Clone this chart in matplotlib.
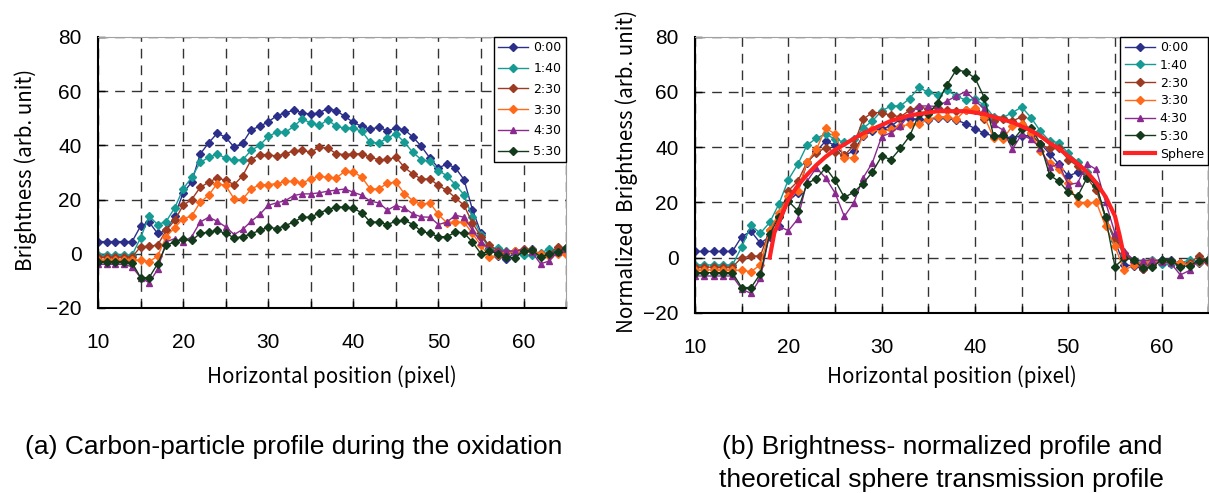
import matplotlib.pyplot as plt
from matplotlib.ticker import MultipleLocator

# pixel position 10..65
xpos = list(range(10, 66))

labels = ['0:00', '1:40', '2:30', '3:30', '4:30', '5:30']
colors = ['#2b2f8a', '#159a94', '#9c3a22', '#ff6a1a', '#8a2a8e', '#143a1c']
markers = ['D', 'D', 'D', 'D', '^', 'D']

# (a) raw brightness
a_000 = [4.5, 4.5, 4.5, 4.5, 4.5, 10.2, 11.7, 7.5, 8.6, 13.9, 22.5, 26.4, 36.8, 40.9, 44.5, 43, 39.3, 40.9, 45.8, 47,
         48.7, 50.9, 52.1, 52.9, 52.1, 51.4, 52.1, 53.6, 52.8, 50.7, 48.5, 47, 46, 46.7, 45.4, 46.3, 45.8, 43.1, 39.6, 35.3,
         31.7, 33.1, 31.7, 27.4, 16.3, 7.7, 2.2, -0.9, -2, 0.4, 1, 1.6, -0.9, 0.4, 1, 2.2]
a_140 = [-0.5, -0.5, -0.5, -0.5, -0.5, 5.9, 13.9, 10.8, 11.9, 16.9, 23.9, 28.2, 33.7, 35.6, 36.8, 35.3, 34.5, 34.7, 38.2, 40,
         43.3, 44.9, 44.8, 47, 49.8, 48.2, 47.4, 49.4, 47, 46.4, 46.3, 45.2, 41.1, 40.9, 42.7, 44.3, 41.1, 37.4, 34.7, 34.1,
         30.7, 28.8, 25.5, 21.8, 13.5, 7.1, 1.6, 2.2, 1, 0.6, -0.5, -0.6, 0.4, 1.6, 1.3, 1.6]
a_230 = [-1.2, -1.2, -1.2, -1.2, -1.2, 2.6, 2.8, 3.2, 8.6, 12.3, 17.9, 20, 24.5, 26.4, 28, 27.1, 25.5, 28.8, 34.7, 36.6,
         36.6, 36, 36.9, 38, 38.2, 37.5, 39.3, 39, 36.9, 36.6, 36.9, 36.9, 35.6, 34.7, 34.8, 35.6, 31.9, 29.4, 27.6, 27.6,
         25.2, 23.4, 20.6, 17.9, 11.4, 6.3, 3.1, 1.2, 0.6, 1.2, 1.6, 1.2, 0.1, -0.2, 2.6, 0.6]
a_330 = [-2.3, -2.3, -2.3, -2.3, -2.3, -2.3, -2.9, -0.9, 6.3, 9.6, 13, 13.9, 19, 21.6, 25.9, 25.2, 20.2, 20.2, 23.9, 25.5,
         25.5, 25.9, 26.7, 26.7, 26.1, 27.6, 28.6, 28.2, 28, 30.4, 30.3, 28.2, 23.9, 23.9, 26.1, 26.4, 22.2, 19.6, 18.2, 18.8,
         14.5, 11.4, 11.7, 11.7, 7.5, 3.1, -1.1, -0.6, 0.4, 1, 1, 1.3, -0.2, -0.9, 0, -0.2]
a_430 = [-3.9, -3.9, -3.9, -3.9, -4.8, -8.8, -10.7, -5.8, 4.4, 5.6, 4.4, 6.3, 11.7, 13.5, 12, 9.9, 7.1, 9, 12, 14.5,
         17.9, 18.8, 19.6, 21.5, 22.1, 22.1, 22.5, 23.1, 23.5, 23.9, 22.7, 21.6, 19.4, 18.8, 16.1, 17.8, 16.9, 14.7, 13.6, 13.5,
         10.8, 11.7, 14.2, 13.5, 8.7, 4.4, 1.6, 1, 1, 1, 1.6, 0.6, -3.7, -2.7, 0.6, 1.6]
a_530 = [-2.9, -2.9, -2.9, -2.9, -3.3, -8.8, -8.8, -3.7, 3.1, 4.4, 5.3, 4.9, 7.5, 8, 8.6, 7.5, 5.9, 6.3, 7.4, 8.6,
         9.8, 9.3, 10.4, 11.7, 13.5, 13.5, 15.1, 16.3, 17.3, 17.2, 16.8, 15.1, 11.7, 11.7, 10.8, 12, 12.4, 10.8, 8.3, 7.5,
         6.3, 6.3, 8, 7.7, 4.3, 0, 1, 0.1, -1.2, -1.5, 1, 1.3, -1.1, -0.2, 0.6, 2.2]

# (b) normalized brightness
b_000 = [2.2, 2.2, 2.2, 2.2, 2.2, 7.6, 9.5, 5.2, 7.6, 11.3, 20.4, 23.4, 34.3, 38.5, 42.2, 40.6, 37.1, 38.5, 44, 45.8,
         46.7, 47.6, 50.1, 50.3, 50.1, 49.7, 50.7, 50.5, 49.8, 48.5, 46.7, 45, 44, 43.8, 43.4, 44, 44.2, 41.3, 37.6, 33.7,
         29.5, 30.9, 29.5, 25.8, 14.3, 5.8, -2.7, -3, -4.2, -1.2, -0.8, -0.8, -2.7, -1.7, -2.1, -0.8]
b_140 = [-2.7, -2.7, -2.7, -2.7, -2.7, 3.8, 11.6, 8.8, 12.7, 19.5, 28.2, 33.7, 40.7, 43.2, 44.8, 42.8, 41.8, 42.8, 46.8, 49.5,
         53.1, 54.9, 54.9, 57.6, 61.6, 59.8, 58.8, 60.6, 58.5, 57, 57.3, 55.2, 51, 50.7, 52.5, 54.5, 50.7, 45.8, 42.2, 41.6,
         37.7, 34.7, 30.9, 25.8, 14.5, 6.2, 1.3, -0.8, -1.5, -0.8, -2.4, -2.4, -2.1, -0.8, -1.7, -0.8]
b_230 = [-3.5, -3.5, -3.5, -3.5, -3.5, 0, 0.4, 0.6, 10, 14.9, 24.2, 27.6, 34.5, 37.9, 39.8, 38.2, 37, 40.6, 50.1, 52.5,
         52.5, 51.5, 51, 53.3, 54.7, 53.7, 54.3, 53.3, 53.1, 53.3, 53.3, 50.3, 49.5, 50.1, 49.5, 50.9, 45, 41, 39.5, 39.5,
         35.5, 33.1, 28.8, 24.4, 14.3, 7, 1.8, -1.5, -4.1, -2.7, -1.1, -1.1, -2.1, -2.1, 0.7, -1.5]
b_330 = [-4.5, -4.5, -4.5, -4.5, -4.5, -4.7, -5.1, -2.7, 10, 16.1, 22.2, 24, 34.5, 39.2, 46.8, 44.8, 36.1, 36.1, 44.2, 46.4,
         45.6, 46.4, 47.6, 48.2, 48.2, 50.1, 51, 51, 50.1, 53.5, 54, 51, 43.4, 43, 47.6, 48.2, 45.2, 38.5, 34.3, 31.9,
         27, 19.8, 19.8, 20, 11.3, 4, -4.7, -2.7, -2.1, -1.1, -1.2, -1.5, -2.1, -2.7, -1.5, -0.8]
b_430 = [-6.7, -6.7, -6.7, -6.7, -6.7, -11.5, -13, -7.5, 8.8, 11.3, 9.7, 13.9, 27.6, 32.5, 28.8, 23.4, 14.9, 19.8, 28.8, 34.3,
         43.8, 45.2, 47.6, 51.9, 54.9, 54.9, 54.7, 56.7, 58.5, 60.1, 57, 53.7, 48.2, 46.2, 39.2, 44.6, 42.8, 39.8, 32.8, 33.7,
         26.4, 27, 33.9, 31.9, 20, 8.8, 2.2, -0.8, -1.1, -0.8, -1.5, -2.1, -6.3, -4.7, -0.8, -0.8]
b_530 = [-5.5, -5.5, -5.5, -5.5, -5.5, -10.9, -10.9, -5.9, 8.6, 14.5, 20.4, 17, 26.8, 28.6, 32.5, 27.9, 21.8, 23.6, 26.8, 30.9,
         36.7, 35.5, 39.5, 44, 51.9, 51.9, 56.1, 62.6, 68, 67.3, 65, 57.9, 44, 44.4, 42.2, 46.4, 47, 41.3, 29.8, 27.6,
         23.6, 22.2, 28.8, 26.4, 14.5, -3.3, -0.2, -0.8, -3.9, -3.6, -0.8, -1.1, -3.3, -3, -1.1, -0.8]

# theoretical sphere transmission profile
sphere_x = [18, 18.5, 19, 20, 21, 22, 23, 24, 25, 26, 27, 28, 29, 30, 31, 32, 33, 34, 35, 36, 37, 38, 39,
            40, 41, 42, 43, 44, 45, 46, 47, 48, 49, 50, 51, 52, 53, 54, 55, 55.5, 56]
sphere_y = [0, 9, 13, 21, 26, 30, 33.5, 36.5, 39, 41, 43, 45, 46.5, 48, 49.5, 50.5, 51.5, 52, 52.5, 53, 53, 53, 53,
            52.5, 52, 51, 50, 49, 47.5, 46, 44, 41.5, 39.5, 36.7, 34, 31, 27, 22, 15, 8, 0]

tick_font = 'Liberation Sans'
label_font = ['Noto Sans CJK JP', 'DejaVu Sans']


def style_axes(ax):
    ax.set_xlim(10, 65)
    ax.set_ylim(-20, 80)
    ax.xaxis.set_major_locator(MultipleLocator(10))
    ax.xaxis.set_minor_locator(MultipleLocator(5))
    ax.yaxis.set_major_locator(MultipleLocator(20))
    ax.grid(True, which='both', axis='x', color='#333333', linestyle=(0, (7, 5)), linewidth=1)
    ax.grid(True, which='major', axis='y', color='#333333', linestyle=(0, (7, 5)), linewidth=1)
    ax.tick_params(which='both', direction='in', length=5, width=1, color='black')
    ax.tick_params(axis='x', which='major', pad=18, labelsize=15)
    ax.tick_params(axis='y', pad=12, labelsize=15)
    for lab in ax.get_xticklabels() + ax.get_yticklabels():
        lab.set_fontfamily(tick_font)
    ax.spines['left'].set_linewidth(1.5)
    ax.spines['bottom'].set_linewidth(1.5)
    ax.spines['top'].set_color('#a0a0a0')
    ax.spines['right'].set_color('#a0a0a0')
    ax.set_axisbelow(True)


fig = plt.figure(figsize=(12.09, 4.93), dpi=100)
ax1 = fig.add_axes([0.0811, 0.3753, 0.3871, 0.5497])
ax2 = fig.add_axes([0.5749, 0.3657, 0.4245, 0.5599])

series_a = [a_000, a_140, a_230, a_330, a_430, a_530]
series_b = [b_000, b_140, b_230, b_330, b_430, b_530]

for vals, lab, c, m in zip(series_a, labels, colors, markers):
    ms = 5 if m == '^' else 4
    ax1.plot(xpos, vals, color=c, marker=m, markersize=ms, linewidth=1, label=lab)

for vals, lab, c, m in zip(series_b, labels, colors, markers):
    ms = 5 if m == '^' else 4
    ax2.plot(xpos, vals, color=c, marker=m, markersize=ms, linewidth=1, label=lab)
ax2.plot(sphere_x, sphere_y, color='#ff2222', linewidth=3, label='Sphere', zorder=5)

for ax, spacing in ((ax1, 0.62), (ax2, 0.38)):
    style_axes(ax)
    leg = ax.legend(loc='upper right', fontsize=9, frameon=True, fancybox=False, edgecolor='black',
                    framealpha=1, borderaxespad=0, handlelength=2.4, handletextpad=0.4,
                    labelspacing=spacing, borderpad=0.35)
    leg.get_frame().set_linewidth(1)

fig.text(0.2745, 0.235, 'Horizontal position (pixel)', ha='center', va='center', fontsize=14.8, family=label_font)
fig.text(0.787, 0.235, 'Horizontal position (pixel)', ha='center', va='center', fontsize=14.8, family=label_font)
fig.text(0.021, 0.655, 'Brightness (arb. unit)', ha='center', va='center', rotation=90, fontsize=14.8,
         family=label_font)
fig.text(0.518, 0.652, 'Normalized  Brightness (arb. unit)', ha='center', va='center', rotation=90,
         fontsize=14.8, family=label_font)

fig.text(0.243, 0.093, '(a) Carbon-particle profile during the oxidation', ha='center', va='center',
         fontsize=19, family='Liberation Sans')
fig.text(0.779, 0.093, '(b) Brightness- normalized profile and', ha='center', va='center',
         fontsize=19, family='Liberation Sans')
fig.text(0.779, 0.026, 'theoretical sphere transmission profile', ha='center', va='center',
         fontsize=19, family='Liberation Sans')

fig.savefig('out.png', dpi=100)
